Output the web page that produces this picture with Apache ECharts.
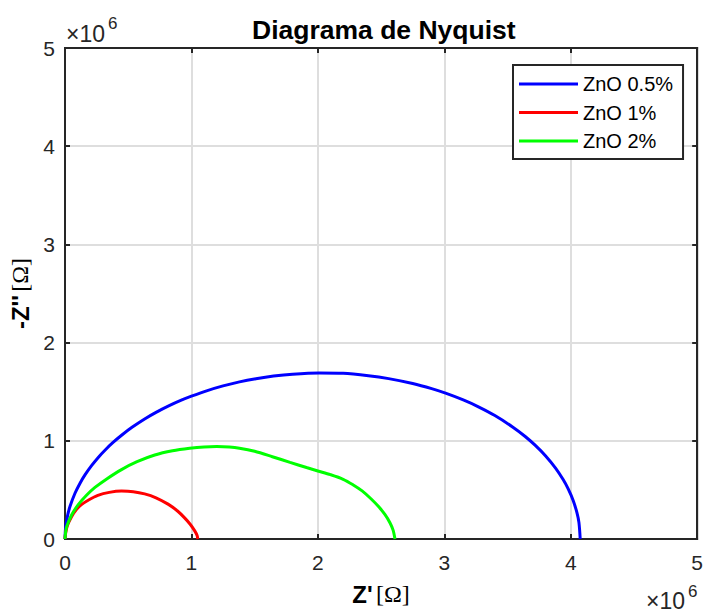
<!DOCTYPE html>
<html>
<head>
<meta charset="utf-8">
<script src="https://cdn.jsdelivr.net/npm/echarts@6/dist/echarts.min.js"></script>
<style>html,body{margin:0;padding:0;background:#fff}#c{width:706px;height:612px}</style>
</head>
<body>
<div id="c"></div>
<script>
// Values in units of 10^6 Ohm: [Z', -Z'']
const seriesNames = ['ZnO 0.5%', 'ZnO 1%', 'ZnO 2%'];
const zno05 = [[0,0],[0.005,0.118],[0.02,0.236],[0.04,0.333],[0.079,0.466],[0.12,0.571],[0.158,0.653],[0.21,0.747],[0.263,0.831],[0.32,0.909],[0.38,0.983],[0.45,1.059],[0.53,1.137],[0.63,1.222],[0.72,1.289],[0.82,1.355],[0.92,1.413],[1.0,1.454],[1.12,1.509],[1.25,1.559],[1.38,1.600],[1.51,1.632],[1.65,1.659],[1.8,1.678],[2.01,1.690],[2.2,1.687],[2.4,1.663],[2.56,1.633],[2.75,1.583],[2.9,1.531],[3.01,1.485],[3.15,1.416],[3.27,1.346],[3.4,1.257],[3.54,1.141],[3.64,1.044],[3.72,0.953],[3.8,0.848],[3.88,0.722],[3.94,0.605],[3.98,0.510],[4.02,0.390],[4.05,0.264],[4.065,0.167],[4.075,0]];
const zno1 = [[0,0],[0.005,0.06],[0.02,0.14],[0.053,0.23],[0.09,0.30],[0.13,0.35],[0.19,0.40],[0.26,0.445],[0.35,0.475],[0.447,0.488],[0.54,0.482],[0.63,0.46],[0.72,0.42],[0.815,0.355],[0.89,0.285],[0.946,0.215],[0.99,0.15],[1.025,0.085],[1.045,0.035],[1.05,0]];
const zno2 = [[0,0],[0.005,0.07],[0.013,0.125],[0.05,0.24],[0.105,0.35],[0.17,0.445],[0.237,0.525],[0.33,0.612],[0.447,0.707],[0.57,0.787],[0.71,0.855],[0.85,0.898],[0.986,0.924],[1.1,0.938],[1.2,0.942],[1.3,0.937],[1.38,0.925],[1.5,0.893],[1.64,0.838],[1.78,0.78],[1.91,0.728],[2.0,0.693],[2.1,0.655],[2.2,0.608],[2.28,0.55],[2.35,0.49],[2.42,0.41],[2.48,0.33],[2.53,0.25],[2.57,0.165],[2.595,0.09],[2.61,0]];
const ticks = [0, 1, 2, 3, 4, 5];
const colors = ['#0000ff', '#ff0000', '#00ff00'];

const chart = echarts.init(document.getElementById('c'), null, {renderer: 'svg'});
const F = '"Liberation Sans", Arial, Helvetica, sans-serif';
const SERIF = '"Liberation Serif", "DejaVu Serif", serif';
const axisBase = {
  type: 'value', min: ticks[0], max: ticks[ticks.length - 1], interval: 1,
  axisLine: {show: true, onZero: false, lineStyle: {color: '#262626', width: 2}},
  axisTick: {show: true, inside: true, length: 5, lineStyle: {color: '#262626', width: 2}},
};
chart.setOption({
  animation: false,
  grid: {left: 65, right: 7, top: 48, bottom: 73, show: true, borderColor: '#262626', borderWidth: 2},
  legend: {
    orient: 'vertical', left: 513, top: 65,
    data: seriesNames,
    icon: 'rect', itemWidth: 59, itemHeight: 3, itemGap: 8.5,
    padding: [9, 10, 8, 6],
    borderColor: '#262626', borderWidth: 2, backgroundColor: '#fff',
    textStyle: {fontFamily: F, fontSize: 20, lineHeight: 20, color: '#000'}
  },
  xAxis: [
    Object.assign({}, axisBase, {
      position: 'bottom',
      axisLabel: {fontFamily: F, fontSize: 21, color: '#262626', margin: 13, formatter: v => String(v)},
      splitLine: {show: true, lineStyle: {color: '#dedede', width: 2}},
      name: "{a|Z'} {b|[Ω]}", nameLocation: 'middle', nameGap: 43,
      nameTextStyle: {rich: {
        a: {fontFamily: F, fontSize: 24, fontWeight: 'bold', color: '#000'},
        b: {fontFamily: SERIF, fontSize: 24, fontWeight: 'normal', color: '#000'}
      }}
    }),
    Object.assign({}, axisBase, {position: 'top', axisLabel: {show: false}, splitLine: {show: false}})
  ],
  yAxis: [
    Object.assign({}, axisBase, {
      position: 'left',
      axisLabel: {fontFamily: F, fontSize: 21, color: '#262626', margin: 10, formatter: v => String(v)},
      splitLine: {show: true, lineStyle: {color: '#dedede', width: 2}},
      name: "{a|-Z''} {b|[Ω]}", nameLocation: 'middle', nameGap: 27,
      nameTextStyle: {rich: {
        a: {fontFamily: F, fontSize: 24, fontWeight: 'bold', color: '#000'},
        b: {fontFamily: SERIF, fontSize: 24, fontWeight: 'normal', color: '#000'}
      }}
    }),
    Object.assign({}, axisBase, {position: 'right', axisLabel: {show: false}, splitLine: {show: false}})
  ],
  graphic: [
    {type: 'text', left: 252, top: 16, style: {text: 'Diagrama de Nyquist', font: 'bold 26.5px ' + F, fill: '#000'}},
    {type: 'text', left: 66, top: 22, style: {text: '×10', font: '23px ' + F, fill: '#262626'}},
    {type: 'text', left: 108, top: 15, style: {text: '6', font: '17px ' + F, fill: '#262626'}},
    {type: 'text', left: 646, top: 589, style: {text: '×10', font: '23px ' + F, fill: '#262626'}},
    {type: 'text', left: 688, top: 583, style: {text: '6', font: '17px ' + F, fill: '#262626'}}
  ],
  series: [
    {name: seriesNames[0], type: 'line', data: zno05, smooth: 0.3, showSymbol: false, lineStyle: {color: colors[0], width: 3}, itemStyle: {color: colors[0]}},
    {name: seriesNames[1], type: 'line', data: zno1, smooth: 0.3, showSymbol: false, lineStyle: {color: colors[1], width: 3}, itemStyle: {color: colors[1]}},
    {name: seriesNames[2], type: 'line', data: zno2, smooth: 0.3, showSymbol: false, lineStyle: {color: colors[2], width: 3}, itemStyle: {color: colors[2]}}
  ]
});
</script>
</body>
</html>
